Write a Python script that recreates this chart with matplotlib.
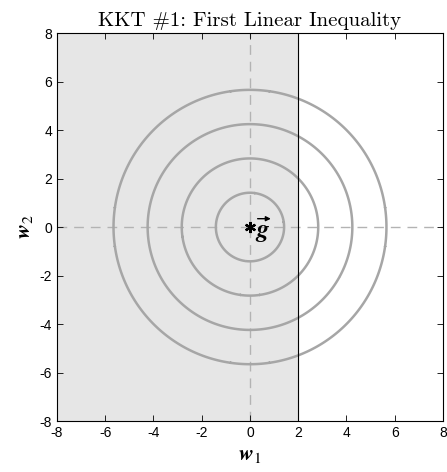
import numpy as np
import matplotlib
matplotlib.use("Agg")
import matplotlib.pyplot as plt
from matplotlib.transforms import offset_copy

# Constant
XLIM = [-8, 8]
YLIM = [-8, 8]
TICKS = [-8, -6, -4, -2, 0, 2, 4, 6, 8]
BOUNDARY = 2            # w1 <= 2
CENTER = [0, 0]          # g
LEVELS = [2, 8, 18, 32]  # ||w - g||^2

plt.rcParams["font.family"] = ["Liberation Sans", "DejaVu Sans"]
plt.rcParams["axes.unicode_minus"] = False
plt.rcParams["mathtext.fontset"] = "cm"

fig = plt.figure(figsize=(4.47, 4.72), dpi=100)
ax = fig.add_axes([0.1275, 0.108, 0.8635, 0.822])

# feasible region
ax.axvspan(XLIM[0], BOUNDARY, color="#e6e6e6", zorder=0)
ax.axvline(BOUNDARY, color="black", lw=0.8, zorder=3)

# axis lines through origin
ax.axhline(0, color="#b3b3b3", lw=1.0, ls=(0, (7, 5)), zorder=1)
ax.axvline(0, color="#b3b3b3", lw=1.0, ls=(0, (7, 5)), zorder=1)

w1, w2 = np.meshgrid(np.linspace(-8, 8, 401), np.linspace(-8, 8, 401))
f = (w1 - CENTER[0]) ** 2 + (w2 - CENTER[1]) ** 2
ax.contour(w1, w2, f, levels=LEVELS, colors="#a6a6a6", linewidths=1.8, zorder=2)

# g marker and label (g with a vector arrow)
ax.plot(CENTER[0], CENTER[1], marker=(6, 2, 0), color="black", ms=8, mew=1.6, zorder=4)
tg = offset_copy(ax.transData, fig=fig, x=4.5, y=-2, units="points")
ax.text(CENTER[0], CENTER[1], "g", transform=tg, family="STIXGeneral", style="italic",
        weight="bold", fontsize=18, ha="left", va="center", zorder=4)
ta = offset_copy(ax.transData, fig=fig, x=5.5, y=6, units="points")
tb = offset_copy(ax.transData, fig=fig, x=15, y=6, units="points")
ax.annotate("", xy=CENTER, xycoords=tb, xytext=CENTER, textcoords=ta,
            arrowprops=dict(arrowstyle="-|>", lw=1.0, color="black",
                            mutation_scale=7, shrinkA=0, shrinkB=0), zorder=4)

ax.set_xlim(XLIM)
ax.set_ylim(YLIM)
ax.set_xticks(TICKS)
ax.set_yticks(TICKS)
ax.tick_params(direction="in", top=True, right=True, labelsize=10, length=4, width=0.6)
for s in ax.spines.values():
    s.set_linewidth(0.8)

ax.set_title("KKT #1: First Linear Inequality", family="cmr10", fontsize=15, pad=5)
ax.set_xlabel(r"$\mathbfit{w}_1$", fontsize=16, labelpad=3, math_fontfamily="stix")
ax.set_ylabel(r"$\mathbfit{w}_2$", fontsize=16, labelpad=3, math_fontfamily="stix")

fig.savefig("out.png", dpi=100)
